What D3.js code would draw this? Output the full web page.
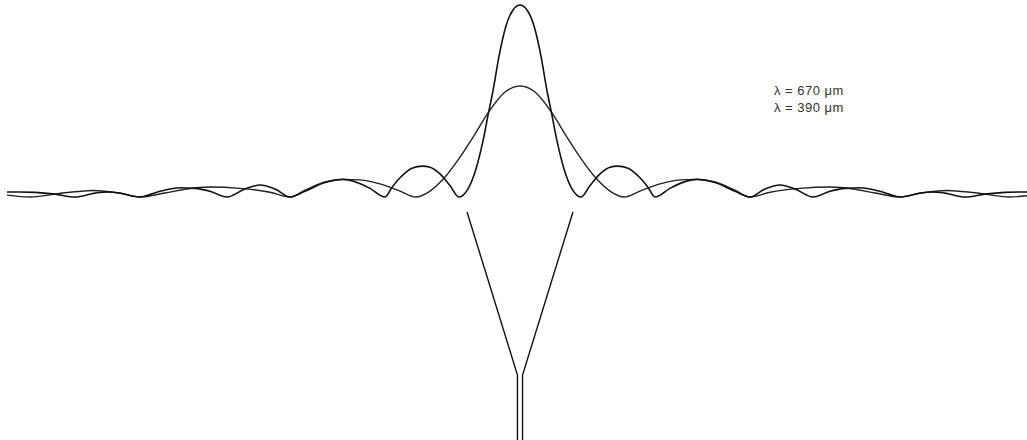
<!DOCTYPE html>
<html>
<head>
<meta charset="utf-8">
<script src="https://cdn.jsdelivr.net/npm/d3@7"></script>
<style>
html,body{margin:0;padding:0;background:#fff;}
svg{display:block;}
</style>
</head>
<body>
<svg id="chart" width="1027" height="440"></svg>
<script>
// Offset angle (arbitrary units, 0 = beam axis) and relative amplitude
const angle390 = [0, 1.16, 2.32, 3.47, 4.47, 5.18, 6.12, 7.28, 8.6, 10.09, 11.58, 13.23, 14.88, 16.12, 17.86, 19.84, 21.17, 22.33, 24.81, 27.29, 29.27, 32.25, 35.55, 38.04, 40.52, 43.0, 45.48, 48.45, 51.27, 53.75, 56.23, 59.53, 62.84, 66.15, 68.13, 70.28, 73.59, 76.9, 80.21, 82.69, 84.84];
const amp390   = [1.0, 0.974, 0.891, 0.734, 0.552, 0.443, 0.292, 0.146, 0.042, 0.0, 0.06, 0.12, 0.155, 0.161, 0.15, 0.1, 0.05, 0.0, 0.045, 0.08, 0.092, 0.075, 0.03, 0.0, 0.042, 0.0625, 0.042, 0.0, 0.03, 0.045, 0.048, 0.03, 0.0, 0.02, 0.026, 0.02, 0.0, 0.015, 0.024, 0.026, 0.026];
const angle670 = [0, 2.48, 5.18, 7.44, 9.92, 12.4, 14.88, 17.2, 19.84, 23.15, 26.46, 29.27, 32.25, 35.55, 38.04, 41.34, 46.3, 51.27, 55.07, 58.71, 62.84, 66.15, 70.61, 75.24, 81.03, 84.84];
const amp670   = [0.578, 0.547, 0.443, 0.328, 0.208, 0.104, 0.031, 0.0, 0.031, 0.068, 0.089, 0.092, 0.078, 0.036, 0.0, 0.025, 0.045, 0.052, 0.042, 0.021, 0.0, 0.02, 0.034, 0.022, 0.0, 0.01];
const labels = ["\u03bb = 670 \u03bcm", "\u03bb = 390 \u03bcm"];
// horn outline (flare mouth half-width, throat half-width, in the same angle units)
const hornMouth = [-8.76, 8.76];
const hornThroat = [-0.42, 0.42];

const svg = d3.select("#chart");
const x = d3.scaleLinear().domain([-85, 85]).range([6, 1034]);
const y = d3.scaleLinear().domain([0, 1]).range([197, 5]);

function mirror(a, v) {
  const pts = [];
  for (let i = a.length - 1; i > 0; i--) pts.push([-a[i], v[i]]);
  for (let i = 0; i < a.length; i++) pts.push([a[i], v[i]]);
  return pts;
}
const line = d3.line().x(d => x(d[0])).y(d => y(d[1])).curve(d3.curveMonotoneX);

svg.append("path").datum(mirror(angle670, amp670)).attr("d", line)
  .attr("fill", "none").attr("stroke", "#222").attr("stroke-width", 1.4);
svg.append("path").datum(mirror(angle390, amp390)).attr("d", line)
  .attr("fill", "none").attr("stroke", "#111").attr("stroke-width", 1.6);

// horn
const hy = d3.scaleLinear().domain([0, 1, 2]).range([212, 375, 440]);
const horn = svg.append("g").attr("fill", "none").attr("stroke", "#111").attr("stroke-width", 1.4);
horn.append("path").attr("d", d3.line()([[x(hornMouth[0]), hy(0)], [x(hornThroat[0]), hy(1)], [x(hornThroat[0]), hy(2)]]));
horn.append("path").attr("d", d3.line()([[x(hornMouth[1]), hy(0)], [x(hornThroat[1]), hy(1)], [x(hornThroat[1]), hy(2)]]));

// legend text
svg.selectAll("text.lab").data(labels).enter().append("text")
  .attr("x", 774).attr("y", (d, i) => 95 + i * 17)
  .attr("font-family", "Liberation Sans, Arial, sans-serif")
  .attr("font-size", 13).attr("letter-spacing", 0.5).attr("fill", "#333").text(d => d);
</script>
</body>
</html>
